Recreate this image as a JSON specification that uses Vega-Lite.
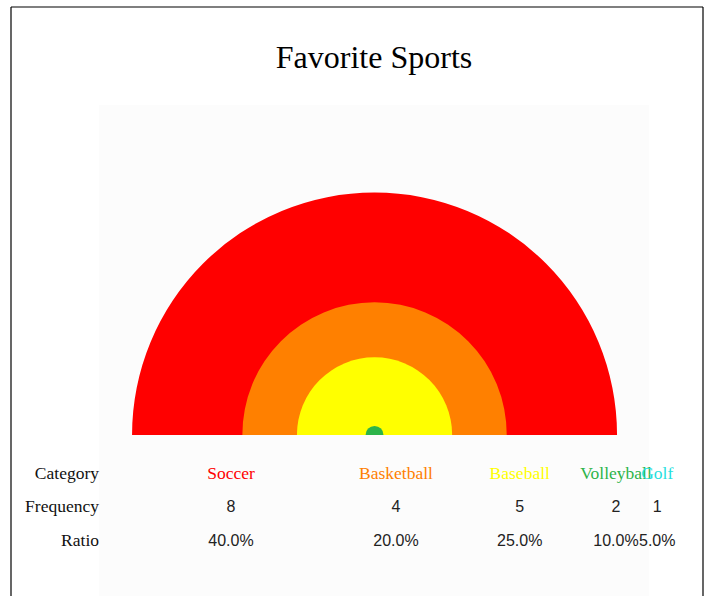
{
  "$schema": "https://vega.github.io/schema/vega-lite/v6.json",
  "width": 692,
  "height": 589,
  "autosize": {"type": "none"},
  "padding": {"left": 11, "top": 7, "right": 1, "bottom": 0},
  "background": "white",
  "config": {"view": {"stroke": null}},
  "title": {
    "text": "Favorite Sports",
    "font": "Liberation Serif",
    "fontSize": 32,
    "fontWeight": "normal",
    "color": "#000000",
    "anchor": "middle",
    "frame": "group",
    "offset": -51,
    "baseline": "middle",
    "dx": 17,
    "dy": 33
  },
  "data": {
    "values": [
      {"sport": "Soccer", "freq": 8, "ratio": 0.4, "arcSize": 1.0, "rank": 1},
      {"sport": "Basketball", "freq": 4, "ratio": 0.2, "arcSize": 0.545, "rank": 2},
      {"sport": "Baseball", "freq": 5, "ratio": 0.25, "arcSize": 0.32, "rank": 3},
      {"sport": "Volleyball", "freq": 2, "ratio": 0.1, "arcSize": 0.037, "rank": 4},
      {"sport": "Golf", "freq": 1, "ratio": 0.05, "arcSize": 0.0, "rank": 5}
    ]
  },
  "layer": [
    {
      "data": {"values": [{}]},
      "mark": {"type": "rect", "color": "#fcfcfc"},
      "encoding": {
        "x": {"datum": -0.8, "type": "quantitative", "scale": {"domain": [-4, 21.164], "nice": false, "zero": false}, "axis": null},
        "x2": {"datum": 19.2},
        "y": {"datum": -10.015, "type": "quantitative", "scale": {"domain": [-12.94, 4.642], "reverse": true, "nice": false, "zero": false}, "axis": null},
        "y2": {"datum": 4.642}
      }
    },
    {
      "mark": {"type": "arc", "theta": -1.5708, "theta2": 1.5708},
      "encoding": {
        "x": {"datum": 9.22, "type": "quantitative", "scale": {"domain": [-4, 21.164], "nice": false, "zero": false}, "axis": null},
        "y": {"datum": -0.164, "type": "quantitative", "scale": {"domain": [-12.94, 4.642], "reverse": true, "nice": false, "zero": false}, "axis": null},
        "radius": {"field": "arcSize", "type": "quantitative", "stack": null, "scale": {"type": "linear", "domain": [0, 1], "range": [0, 242.5], "zero": true}, "legend": null},
        "order": {"field": "rank", "type": "quantitative"},
        "color": {
          "field": "sport", "type": "nominal",
          "scale": {"domain": ["Soccer", "Basketball", "Baseball", "Volleyball", "Golf"], "range": ["#ff0000", "#ff8000", "#ffff00", "#2db44a", "#1fe0e0"]},
          "legend": null
        }
      }
    },
    {
      "data": {"values": [{"label": "Category", "row": 1}, {"label": "Frequency", "row": 2}, {"label": "Ratio", "row": 3}]},
      "mark": {"type": "text", "align": "right", "baseline": "middle", "font": "Liberation Serif", "fontSize": 17.5, "color": "#111111"},
      "encoding": {
        "x": {"datum": -0.8, "type": "quantitative", "scale": {"domain": [-4, 21.164], "nice": false, "zero": false}, "axis": null},
        "y": {"field": "row", "type": "quantitative", "scale": {"domain": [-12.94, 4.642], "reverse": true, "nice": false, "zero": false}, "axis": null},
        "text": {"field": "label", "type": "nominal"}
      }
    },
    {
      "mark": {"type": "text", "align": "center", "baseline": "middle", "font": "Liberation Serif", "fontSize": 17.5, "dx": {"expr": "(scale('x', 0) - scale('x', datum.freq)) / 2"}},
      "encoding": {
        "x": {"field": "freq", "type": "quantitative", "stack": "zero", "scale": {"domain": [-4, 21.164], "nice": false, "zero": false}, "axis": null},
        "y": {"datum": 1, "type": "quantitative", "scale": {"domain": [-12.94, 4.642], "reverse": true, "nice": false, "zero": false}, "axis": null},
        "order": {"field": "rank", "type": "quantitative"},
        "detail": {"field": "sport", "type": "nominal"},
        "color": {
          "field": "sport", "type": "nominal",
          "scale": {"domain": ["Soccer", "Basketball", "Baseball", "Volleyball", "Golf"], "range": ["#ff0000", "#ff8000", "#ffff00", "#2db44a", "#1fe0e0"]},
          "legend": null
        },
        "text": {"field": "sport", "type": "nominal"}
      }
    },
    {
      "mark": {"type": "text", "align": "center", "baseline": "middle", "font": "Liberation Sans", "fontSize": 16, "color": "#222222", "dx": {"expr": "(scale('x', 0) - scale('x', datum.freq)) / 2"}},
      "encoding": {
        "x": {"field": "freq", "type": "quantitative", "stack": "zero", "scale": {"domain": [-4, 21.164], "nice": false, "zero": false}, "axis": null},
        "y": {"datum": 2, "type": "quantitative", "scale": {"domain": [-12.94, 4.642], "reverse": true, "nice": false, "zero": false}, "axis": null},
        "order": {"field": "rank", "type": "quantitative"},
        "detail": {"field": "sport", "type": "nominal"},
        "text": {"field": "freq", "type": "quantitative", "format": "d"}
      }
    },
    {
      "mark": {"type": "text", "align": "center", "baseline": "middle", "font": "Liberation Sans", "fontSize": 16, "color": "#222222", "dx": {"expr": "(scale('x', 0) - scale('x', datum.freq)) / 2"}},
      "encoding": {
        "x": {"field": "freq", "type": "quantitative", "stack": "zero", "scale": {"domain": [-4, 21.164], "nice": false, "zero": false}, "axis": null},
        "y": {"datum": 3, "type": "quantitative", "scale": {"domain": [-12.94, 4.642], "reverse": true, "nice": false, "zero": false}, "axis": null},
        "order": {"field": "rank", "type": "quantitative"},
        "detail": {"field": "sport", "type": "nominal"},
        "text": {"field": "ratio", "type": "quantitative", "format": ".1%"}
      }
    },
    {
      "data": {"values": [{}]},
      "mark": {"type": "rule", "color": "#000000", "strokeWidth": 1.2},
      "encoding": {
        "x": {"datum": -4, "type": "quantitative", "scale": {"domain": [-4, 21.164], "nice": false, "zero": false}, "axis": null},
        "y": {"datum": -12.94, "type": "quantitative", "scale": {"domain": [-12.94, 4.642], "reverse": true, "nice": false, "zero": false}, "axis": null},
        "y2": {"datum": 4.642}
      }
    },
    {
      "data": {"values": [{}]},
      "mark": {"type": "rule", "color": "#000000", "strokeWidth": 1.2},
      "encoding": {
        "x": {"datum": 21.164, "type": "quantitative", "scale": {"domain": [-4, 21.164], "nice": false, "zero": false}, "axis": null},
        "y": {"datum": -12.94, "type": "quantitative", "scale": {"domain": [-12.94, 4.642], "reverse": true, "nice": false, "zero": false}, "axis": null},
        "y2": {"datum": 4.642}
      }
    },
    {
      "data": {"values": [{}]},
      "mark": {"type": "rule", "color": "#000000", "strokeWidth": 1.2},
      "encoding": {
        "x": {"datum": -4, "type": "quantitative", "scale": {"domain": [-4, 21.164], "nice": false, "zero": false}, "axis": null},
        "x2": {"datum": 21.164},
        "y": {"datum": -12.94, "type": "quantitative", "scale": {"domain": [-12.94, 4.642], "reverse": true, "nice": false, "zero": false}, "axis": null}
      }
    }
  ]
}
